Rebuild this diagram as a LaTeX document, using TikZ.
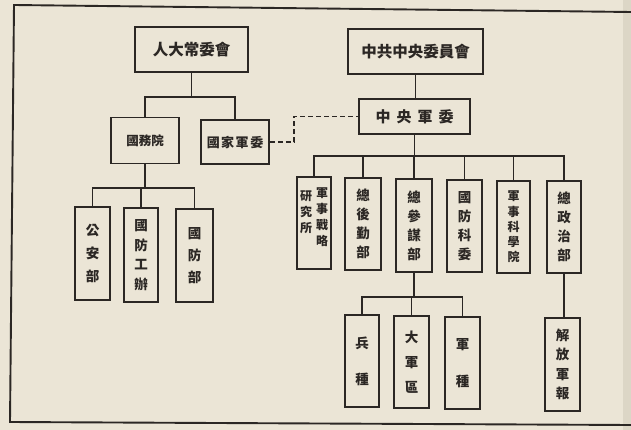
\documentclass[tikz,border=0pt]{standalone}
\usepackage{fontspec}
\newfontfamily\cjk{Noto Sans CJK TC}
\definecolor{paper}{HTML}{EBE5D6}
\definecolor{ink}{HTML}{2B2724}
\definecolor{edge}{HTML}{DCD6C6}
\begin{document}
\begin{tikzpicture}[x=1pt,y=-1pt,
  box/.style={draw=ink, line width=1.7pt, inner sep=0pt, text=ink,
    font=\cjk\bfseries\fontsize{13.5}{19}\selectfont, align=center},
  link/.style={draw=ink, line width=1.6pt},
  dlink/.style={draw=ink, line width=1.6pt, dash pattern=on 5pt off 3pt},
  frame/.style={draw=ink, line width=1.9pt}]
\fill[paper] (0,0) rectangle (631,430);
\fill[edge] (623,0) rectangle (631,430);
\useasboundingbox (0,0) rectangle (631,430);
% frame
\coordinate (f1) at (631,12);
\coordinate (f2) at (14,5);
\coordinate (f3) at (10,422);
\coordinate (f4) at (631,425);
\draw[frame] (f1) -- (f2) -- (f3) -- (f4);
% top level
\node[box, minimum width=113pt, minimum height=45pt, font=\cjk\bfseries\fontsize{15.5}{19}\selectfont] (rd) at (191.5,49.5) {人大常委會};
\node[box, minimum width=135pt, minimum height=45pt, font=\cjk\bfseries\fontsize{15.5}{19}\selectfont] (zg) at (415.5,51.5) {中共中央委員會};
\node[box, minimum width=111pt, minimum height=35pt, font=\cjk\bfseries\fontsize{15}{19}\selectfont] (zhjw) at (414.5,116.5) {中\hspace{6pt}央\hspace{6pt}軍\hspace{6pt}委};
% state side
\node[box, minimum width=68pt, minimum height=46pt, font=\cjk\bfseries\fontsize{12.5}{19}\selectfont] (gwy) at (145,140.5) {國務院};
\node[box, minimum width=68pt, minimum height=44pt, font=\cjk\bfseries\fontsize{13}{19}\selectfont] (gjjw) at (235,142) {國\hspace{1.5pt}家\hspace{1.5pt}軍\hspace{1.5pt}委};
\node[box, minimum width=35pt, minimum height=93pt, font=\cjk\bfseries\fontsize{13.5}{23}\selectfont] (gab) at (92.5,253.5) {公\\安\\部};
\node[box, minimum width=34pt, minimum height=94pt, font=\cjk\bfseries\fontsize{13.5}{19.5}\selectfont] (gfgb) at (141,255) {國\\防\\工\\辦};
\node[box, minimum width=37pt, minimum height=93pt, font=\cjk\bfseries\fontsize{13.5}{22}\selectfont] (gfb) at (194.5,255.5) {國\\防\\部};
% party side, middle row
\node[box, minimum width=34pt, minimum height=92pt] (jslue) at (314,223) {};
\node[text=ink, inner sep=0pt, align=center, font=\cjk\bfseries\fontsize{12}{16}\selectfont, anchor=north] (jslueR) at ([xshift=8pt,yshift=-11pt]jslue.north) {軍\\事\\戰\\略};
\node[text=ink, inner sep=0pt, align=center, font=\cjk\bfseries\fontsize{12}{16}\selectfont, anchor=north] (jslueL) at ([xshift=-8pt,yshift=-14pt]jslue.north) {研\\究\\所};
\node[box, minimum width=36pt, minimum height=92pt] (zhq) at (363,224) {總\\後\\勤\\部};
\node[box, minimum width=36pt, minimum height=93pt] (zcm) at (414,225.5) {總\\參\\謀\\部};
\node[box, minimum width=35pt, minimum height=92pt] (gfkw) at (464.5,226) {國\\防\\科\\委};
\node[box, minimum width=33pt, minimum height=92pt, font=\cjk\bfseries\fontsize{12}{15.2}\selectfont] (jskx) at (513.5,227) {軍\\事\\科\\學\\院};
\node[box, minimum width=34pt, minimum height=92pt] (zzz) at (564,227) {總\\政\\治\\部};
% bottom row
\node[box, minimum width=34pt, minimum height=92pt, font=\cjk\bfseries\fontsize{13.5}{36}\selectfont] (bz) at (362,361) {兵\\種};
\node[box, minimum width=35pt, minimum height=92pt, font=\cjk\bfseries\fontsize{13.5}{25}\selectfont] (djq) at (411.5,362) {大\\軍\\區};
\node[box, minimum width=35pt, minimum height=92pt, font=\cjk\bfseries\fontsize{13.5}{37}\selectfont] (jz) at (462.5,363) {軍\\種};
\node[box, minimum width=35pt, minimum height=93pt, font=\cjk\bfseries\fontsize{13.5}{19.5}\selectfont] (jfjb) at (562.5,364.5) {解\\放\\軍\\報};
% connectors
\draw[link] (rd.south) -- ++(0,24) coordinate (b1);
\draw[link] (b1) -| (gwy.north);
\draw[link] (b1) -| (gjjw.north);
\draw[link] (gwy.south) -- ++(0,23.5) coordinate (b2);
\draw[link] (b2) -| (gab.north);
\draw[link] (b2) -| (gfgb.north);
\draw[link] (b2) -| (gfb.north);
\draw[link] (zg.south) -- (zg.south |- zhjw.north);
\draw[dlink] (gjjw.east) -- ++(24,0) |- (zhjw.west);
\draw[link] (zhjw.south) -- ++(0,21) coordinate (b3);
\foreach \n in {jslue,zhq,zcm,gfkw,jskx,zzz} \draw[link] (b3) -| (\n.north);
\draw[link] (zcm.south) -- ++(0,24) coordinate (b4);
\foreach \n in {bz,djq,jz} \draw[link] (b4) -| (\n.north);
\draw[link] (zzz.south) -- (zzz.south |- jfjb.north);
\end{tikzpicture}
\end{document}
